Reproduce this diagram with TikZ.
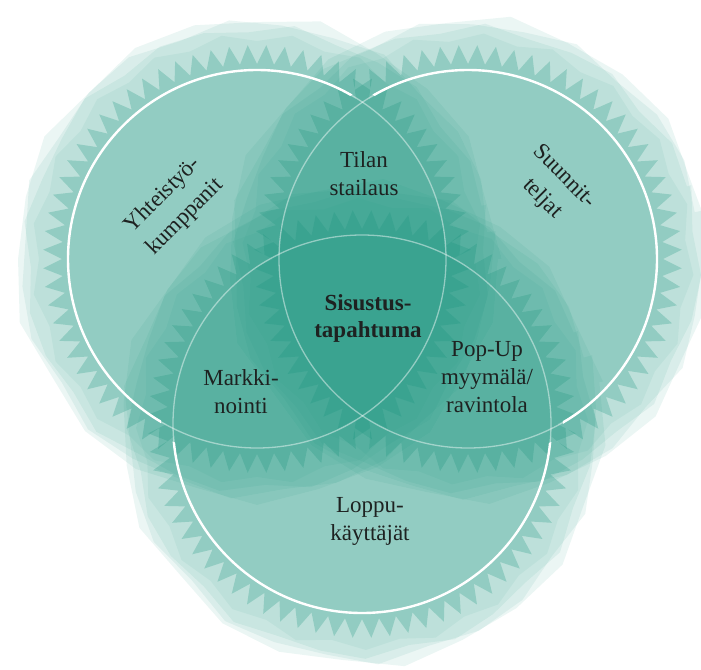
\documentclass[tikz,border=0pt]{standalone}
\usepackage{fontspec}
\setmainfont{Liberation Serif}
\definecolor{teal0}{RGB}{26,148,126}
\definecolor{txt}{RGB}{30,34,33}
\begin{document}
\begin{tikzpicture}[x=1pt,y=-1pt,
  lbl/.style={align=center, text=txt, font=\fontsize{23}{28}\selectfont, inner sep=0pt},
  rlbl/.style={lbl, font=\fontsize{23}{31}\selectfont},
  halo/.style={teal0, fill opacity=0.085},
  ringlayer/.style={teal0, fill opacity=0.07},
  serr/.style={teal0, fill opacity=0.26},
  faintline/.style={white, line width=1.3pt, opacity=0.45},
  brightline/.style={white, line width=2.4pt}]
\useasboundingbox (0,0) rectangle (701,669);
\coordinate (cL) at (257,259);
\coordinate (cR) at (468,259);
\coordinate (cB) at (362,424);
% halos, rings and serrated disks
\foreach \cx/\cy/\ro in {257/259/0, 468/259/5, 362/424/10} {
  \foreach \n/\b/\ph in {24/241/0, 28/236/60, 32/231/120} {
    \fill[halo, shift={(\cx,\cy)}, rotate=\ro+\ph/9]
      plot[samples=\n+1, domain=0:\n, variable=\k]
      ({(\b+5*sin(\k*137+\ph))*cos(\k*360/\n)},{(\b+5*sin(\k*137+\ph))*sin(\k*360/\n)}) -- cycle;
  }
  \fill[ringlayer, shift={(\cx,\cy)}, rotate=\ro]
    plot[samples=41, domain=0:40, variable=\k]
    ({(218+8*mod(\k,2))*cos(\k*9)},{(218+8*mod(\k,2))*sin(\k*9)}) -- cycle;
  \fill[serr, shift={(\cx,\cy)}, rotate=\ro]
    plot[samples=145, domain=0:144, variable=\k]
    ({(195+19*mod(\k,2))*cos(\k*2.5)},{(195+19*mod(\k,2))*sin(\k*2.5)}) -- cycle;
}
% faint outlines
\draw[faintline] (cL) circle (189);
\draw[faintline] (cR) circle (189);
\draw[faintline] (cB) circle (189);
% bright outlines outside the other circles
\begin{scope}
  \clip (-10,-10) -- (711,-10) -- (711,679) -- (-10,679) -- cycle
    (669,259) arc[start angle=0, end angle=-360, radius=201];
  \clip (-10,-10) -- (711,-10) -- (711,679) -- (-10,679) -- cycle
    (563,424) arc[start angle=0, end angle=-360, radius=201];
  \draw[brightline] (cL) circle (189);
\end{scope}
\begin{scope}
  \clip (-10,-10) -- (711,-10) -- (711,679) -- (-10,679) -- cycle
    (458,259) arc[start angle=0, end angle=-360, radius=201];
  \clip (-10,-10) -- (711,-10) -- (711,679) -- (-10,679) -- cycle
    (563,424) arc[start angle=0, end angle=-360, radius=201];
  \draw[brightline] (cR) circle (189);
\end{scope}
\begin{scope}
  \clip (-10,-10) -- (711,-10) -- (711,679) -- (-10,679) -- cycle
    (458,259) arc[start angle=0, end angle=-360, radius=201];
  \clip (-10,-10) -- (711,-10) -- (711,679) -- (-10,679) -- cycle
    (669,259) arc[start angle=0, end angle=-360, radius=201];
  \draw[brightline] (cB) circle (189);
\end{scope}
% labels
\node[lbl] (tilan) at (364,174) {Tilan\\stailaus};
\node[lbl, font=\bfseries\fontsize{23}{27}\selectfont] (sis) at (368,318) {Sisustus-\\tapahtuma};
\node[lbl] (mark) at (241,392) {Markki-\\nointi};
\node[lbl] (pop) at (487,377) {Pop-Up\\myymälä/\\ravintola};
\node[lbl] (lop) at (370,521) {Loppu-\\käyttäjät};
\node[rlbl, rotate=45] (yht) at (174,206) {Yhteistyö-\\kumppanit};
\node[rlbl, rotate=-45] (suu) at (553,188) {Suunnit-\\teljat};
\end{tikzpicture}
\end{document}
